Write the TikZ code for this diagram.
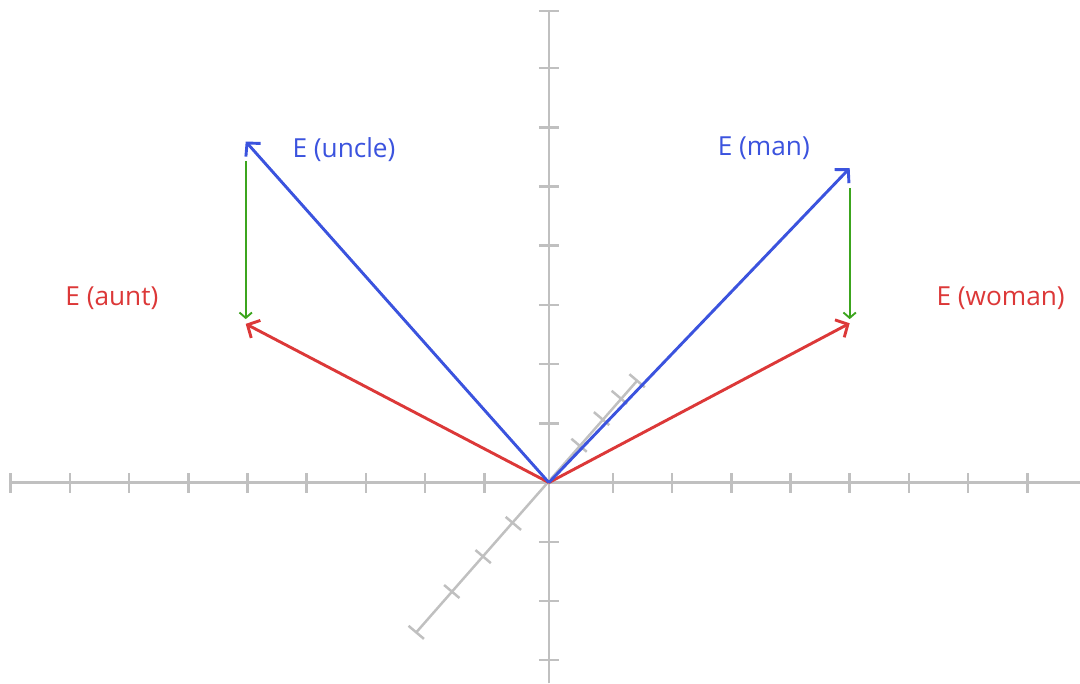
\documentclass[tikz,border=0pt]{standalone}
\usepackage{fontspec}
\setmainfont{Open Sans}
\usetikzlibrary{arrows.meta}

\definecolor{vecblue}{RGB}{59,83,222}
\definecolor{vecred}{RGB}{220,56,56}
\definecolor{vecgreen}{RGB}{60,165,30}
\definecolor{axisgray}{RGB}{192,192,192}

\begin{document}
\begin{tikzpicture}[
    axis/.style={line width=1.2pt,axisgray},
    vec/.style={line width=1.4pt,-{Straight Barb[length=4.5pt,width=9.5pt,line width=1.4pt]}},
    diffvec/.style={line width=0.9pt,vecgreen,-{Straight Barb[length=2.6pt,width=6pt,line width=0.9pt]}},
    lbl/.style={font=\fontsize{12.6}{15}\selectfont,inner sep=0pt}]
  \useasboundingbox (-9.27,-3.39) rectangle (8.97,8.15);
  % axes
  \draw[axis] (-9.1,0)--(8.97,0);
  \draw[axis] (0,-3.39)--(0,7.96);
  \foreach \x in {1,...,9} \draw[axis] (-\x-0.09,-0.17)--(-\x-0.09,0.17);
  \foreach \x in {1,...,8} \draw[axis] (\x+0.08,-0.17)--(\x+0.08,0.17);
  \foreach \y in {-3,...,-1,1,2,...,7} \draw[axis] (-0.17,\y)--(0.17,\y);
  \draw[axis] (-0.17,7.96)--(0.17,7.96);
  % depth axis
  \draw[axis] (-2.24,-2.53)--(1.49,1.72);
  \foreach \p in {(-2.24,-2.53),(-1.64,-1.84),(-1.11,-1.25),(-0.60,-0.69),(0.51,0.63),(0.89,1.08),(1.19,1.44),(1.49,1.72)}
    \draw[axis] \p ++(-0.13,0.11)--++(0.26,-0.22);
  % word vectors
  \coordinate (O) at (0,0);
  \coordinate (uncle) at (-5.12,5.76);
  \coordinate (aunt) at (-5.12,2.68);
  \coordinate (man) at (5.08,5.31);
  \coordinate (woman) at (5.08,2.69);
  \draw[vec,vecred] (O)--(aunt);
  \draw[vec,vecred] (O)--(woman);
  \draw[vec,vecblue] (O)--(uncle);
  \draw[vec,vecblue] (O)--(man);
  \draw[diffvec] ([yshift=-0.33cm]uncle)--([yshift=0.08cm]aunt);
  \draw[diffvec] ([yshift=-0.34cm]man)--([yshift=0.07cm]woman);
  \node[lbl,vecblue] (luncle) at (-3.46,5.63) {E (uncle)};
  \node[lbl,vecblue] (lman) at (3.63,5.64) {E (man)};
  \node[lbl,vecred] (launt) at (-7.38,3.11) {E (aunt)};
  \node[lbl,vecred] (lwoman) at (7.63,3.11) {E (woman)};
\end{tikzpicture}
\end{document}
